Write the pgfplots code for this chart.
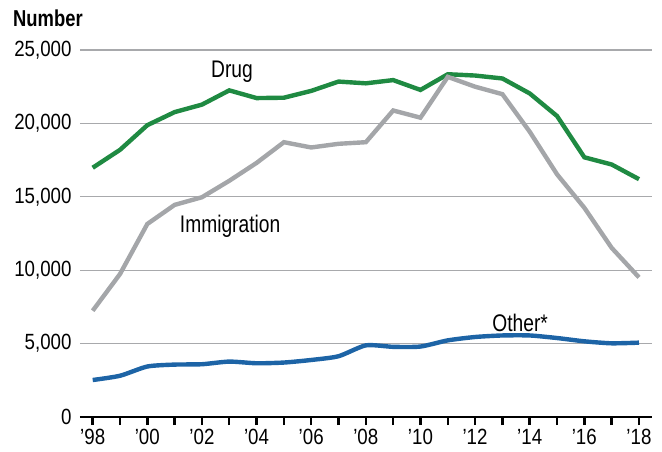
\documentclass[border=0pt]{standalone}
\usepackage{pgfplots}
\pgfplotsset{compat=1.18}
\usepackage{fontspec}
\setmainfont{Liberation Sans}
\newfontfamily\tickfont{Liberation Sans}[FakeStretch=0.85]
\newfontfamily\condfont{Liberation Sans}[FakeStretch=0.8]
\definecolor{drugc}{HTML}{1F8A42}
\definecolor{immc}{HTML}{A4A6A9}
\definecolor{othc}{HTML}{1D64A6}
\definecolor{gridc}{HTML}{A8A9AC}
\begin{document}
\begin{tikzpicture}
\useasboundingbox (-80pt,-34pt) rectangle (582pt,417pt);
\begin{axis}[
  scale only axis, width=572pt, height=367pt,
  xmin=1997.535, xmax=2018.476, ymin=0, ymax=25000,
  axis lines*=left,
  y axis line style={draw=none},
  x axis line style={black, line width=2.6pt},
  xtick={1998,...,2018},
  xticklabels={’98,,’00,,’02,,’04,,’06,,’08,,’10,,’12,,’14,,’16,,’18},
  x tick style={black, line width=2.4pt},
  tick align=outside,
  major tick length=8pt,
  ytick={0,5000,10000,15000,20000,25000},
  y tick style={draw=none},
  ymajorgrids, grid style={gridc, line width=1.2pt},
  scaled y ticks=false,
  /pgf/number format/.cd, fixed, 1000 sep={,}, assume math mode=true,
  /pgfplots/.cd,
  tick label style={font=\tickfont\fontsize{22}{24}\selectfont},
  yticklabel style={xshift=3pt},
  xticklabel style={yshift=-1pt},
  clip=false,
]
\addplot[drugc, line width=4.4pt] coordinates {
(1998,16980) (1999,18200) (2000,19880) (2001,20770) (2002,21280) (2003,22250)
(2004,21725) (2005,21750) (2006,22215) (2007,22850) (2008,22730) (2009,22950)
(2010,22280) (2011,23350) (2012,23260) (2013,23060) (2014,22040) (2015,20500)
(2016,17690) (2017,17200) (2018,16200)};
\addplot[immc, line width=4.4pt] coordinates {
(1998,7240) (1999,9740) (2000,13150) (2001,14450) (2002,14970) (2003,16090)
(2004,17310) (2005,18720) (2006,18360) (2007,18610) (2008,18720) (2009,20880)
(2010,20390) (2011,23170) (2012,22500) (2013,21990) (2014,19430) (2015,16530)
(2016,14250) (2017,11520) (2018,9510)};
\addplot[othc, line width=4.4pt, smooth, tension=0.4] coordinates {
(1998,2520) (1999,2810) (2000,3440) (2001,3570) (2002,3595) (2003,3775)
(2004,3660) (2005,3710) (2006,3885) (2007,4140) (2008,4880) (2009,4780)
(2010,4800) (2011,5220) (2012,5450) (2013,5555) (2014,5555) (2015,5380)
(2016,5155) (2017,5020) (2018,5065)};
\node[font=\condfont\fontsize{24}{26}\selectfont] at (axis cs:2003.1,23500) {Drug};
\node[font=\condfont\fontsize{24}{26}\selectfont] at (axis cs:2003.03,13011) {Immigration};
\node[font=\condfont\fontsize{24}{26}\selectfont] at (axis cs:2013.65,6403) {Other*};
\end{axis}
\node[anchor=west, inner sep=0pt, font=\condfont\bfseries\fontsize{23}{25}\selectfont] at (-67pt,399pt) {Number};
\end{tikzpicture}
\end{document}
